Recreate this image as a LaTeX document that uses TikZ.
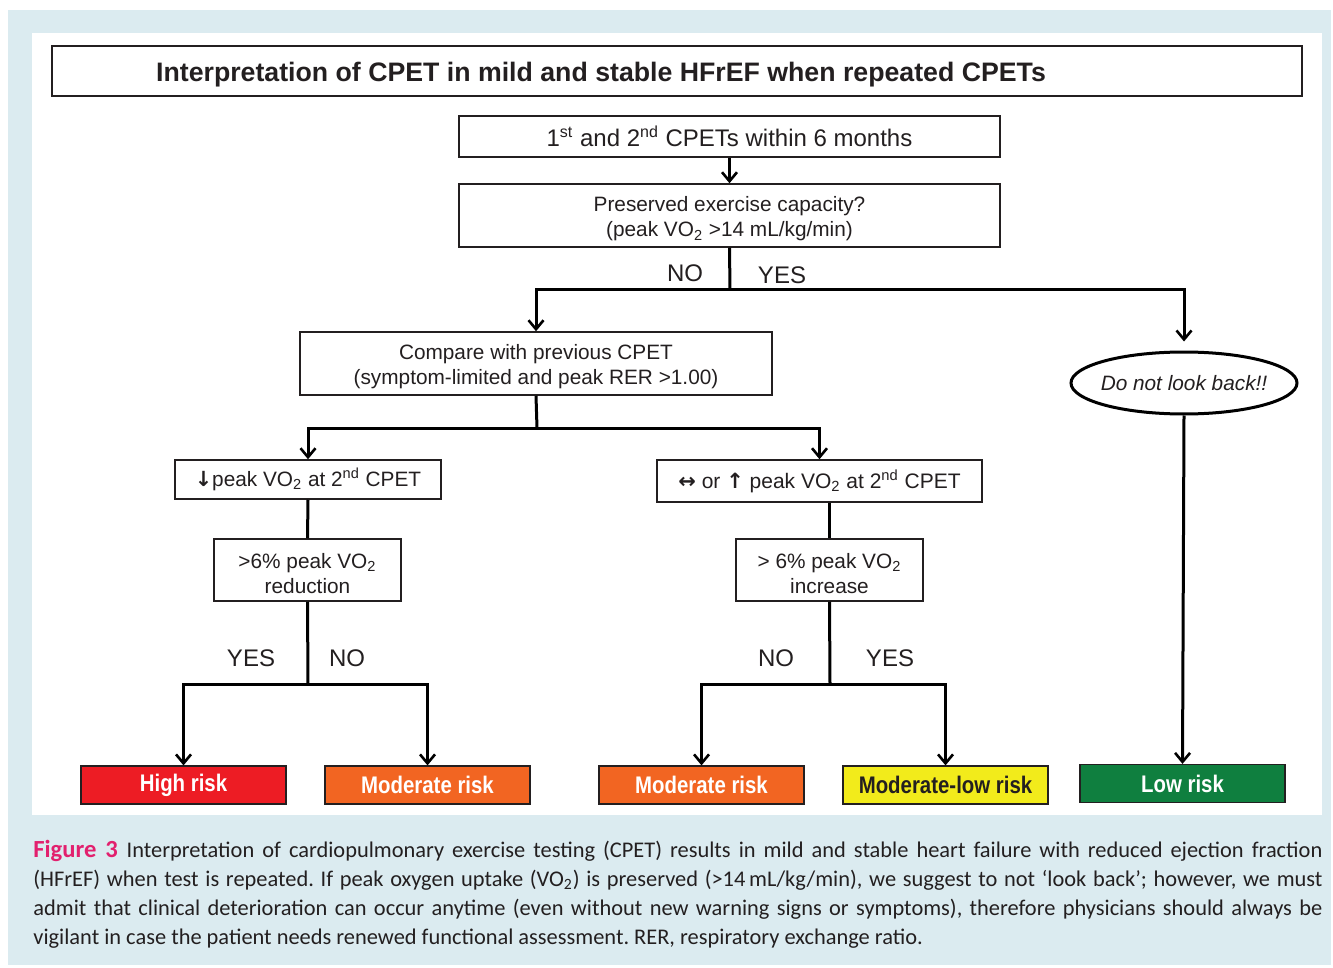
\documentclass[tikz,border=0pt]{standalone}
\usepackage{fontspec}
\setmainfont{Liberation Sans}
\newfontfamily\capfont{Carlito}
\newfontfamily\condfont[FakeStretch=0.85]{Liberation Sans}
\newfontfamily\arrfont{DejaVu Sans}
\usetikzlibrary{arrows.meta,shapes.geometric}
\definecolor{bgblue}{HTML}{DBEBF0}
\definecolor{hired}{HTML}{ED1C24}
\definecolor{modorange}{HTML}{F26522}
\definecolor{mlyellow}{HTML}{F2EB1B}
\definecolor{lowgreen}{HTML}{0F7F3F}
\definecolor{figpink}{HTML}{E2206E}
\definecolor{ink}{HTML}{231F20}
\newcommand{\barrow}[1]{{\arrfont\bfseries #1}}
\begin{document}
\begin{tikzpicture}[x=0.5pt,y=-0.5pt,
  box/.style={draw=ink,line width=0.75pt,fill=white,text=ink,align=center,inner sep=0pt,
    font=\fontsize{10.4}{12.5}\selectfont},
  risk/.style={draw=ink,line width=0.6pt,minimum width=102.5pt,minimum height=19pt,inner sep=0pt,
    font=\condfont\bfseries\fontsize{12}{14}\selectfont},
  conn/.style={line width=1.5pt,draw=black},
  arr/.style={conn,-{Straight Barb[length=4.5pt,width=7.5pt,line width=1.3pt]}},
  lab/.style={font=\fontsize{12}{14}\selectfont,text=ink,inner sep=0pt}]
\useasboundingbox (0,0) rectangle (1333,968);
\fill[bgblue] (8,10) rectangle (1331,965);
\fill[white] (32,33) rectangle (1322,815);

% title
\node[draw=ink,line width=0.75pt,minimum width=625pt,minimum height=25pt,inner sep=0pt] (title) at (677,71) {};
\node[font=\bfseries\fontsize{13.35}{15}\selectfont,text=ink,inner sep=0pt] (titletext) at (601,75) {Interpretation of CPET in mild and stable HFrEF when repeated CPETs};

% boxes
\node[box,minimum width=270.5pt,minimum height=20.5pt,font=\fontsize{12}{14}\selectfont] (b1) at (729.5,136.5)
  {1\textsuperscript{st} and 2\textsuperscript{nd} CPETs within 6 months};
\node[box,minimum width=270.5pt,minimum height=31.5pt] (b2) at (729.5,215.5)
  {\rule{0pt}{11pt}Preserved exercise capacity?\\(peak VO\textsubscript{2} >14 mL/kg/min)};
\node[box,minimum width=236pt,minimum height=31.5pt] (b3) at (536,363.5)
  {\rule{0pt}{11pt}Compare with previous CPET\\(symptom-limited and peak RER >1.00)};
\node[draw=black,line width=1.5pt,ellipse,minimum width=113pt,minimum height=31pt,inner sep=0pt,
  font=\itshape\fontsize{10.4}{12.5}\selectfont,text=ink] (ell) at (1184,383) {\makebox[0pt]{Do not look back!!}};
\node[box,minimum width=133pt,minimum height=19.5pt,font=\fontsize{10.4}{13}\selectfont] (b4) at (308,479.5)
  {\barrow{↓}peak VO\textsubscript{2} at 2\textsuperscript{nd} CPET};
\node[box,minimum width=162.5pt,minimum height=21pt,font=\fontsize{10.5}{13}\selectfont] (b5) at (819.5,481)
  {\barrow{↔} or \barrow{↑} peak VO\textsubscript{2} at 2\textsuperscript{nd} CPET};
\node[box,minimum width=93.5pt,minimum height=31pt] (b6) at (307.5,570)
  {\rule{0pt}{11pt}>6\% peak VO\textsubscript{2}\\reduction};
\node[box,minimum width=93.5pt,minimum height=31pt] (b7) at (829.5,570)
  {\rule{0pt}{11pt}> 6\% peak VO\textsubscript{2}\\increase};

% risk boxes
\node[risk,fill=hired,text=white] (r1) at (183.5,785) {High risk};
\node[risk,fill=modorange,text=white] (r2) at (427.5,785) {Moderate risk};
\node[risk,fill=modorange,text=white] (r3) at (701.5,785) {Moderate risk};
\node[risk,fill=mlyellow,text=ink] (r4) at (945.5,785) {Moderate-low risk};
\node[risk,fill=lowgreen,text=white] (r5) at (1182.5,783.5) {Low risk};

% junctions
\coordinate (j1) at (730,290);
\coordinate (j2) at (537,428);
\coordinate (j3) at (308,684);
\coordinate (j4) at (830,684);

% connectors
\draw[arr] (b1.south) -- (b2.north);
\draw[conn] (b2.south) -- (j1);
\draw[arr] (j1) -| (b3.north);
\draw[arr,shorten >=4.5pt] (j1) -| (ell.north);
\draw[conn] (b3.south) -- (j2);
\draw[arr] (j2) -| (b4.north);
\draw[arr] (j2) -| (b5.north);
\draw[conn] (b4.south) -- (b6.north);
\draw[conn] (b7.north |- b5.south) -- (b7.north);
\draw[conn] (b6.south) -- (j3);
\draw[arr] (j3) -| (r1.north);
\draw[arr] (j3) -| (r2.north);
\draw[conn] (b7.south) -- (j4);
\draw[arr] (j4) -| (r3.north);
\draw[arr] (j4) -| (r4.north);
\draw[arr] (ell.south) -- (r5.north);

% labels
\node[lab] (lno1) at (685,273) {NO};
\node[lab] (lyes1) at (782,275) {YES};
\node[lab] (lyes2) at (251,658) {YES};
\node[lab] (lno2) at (347,658) {NO};
\node[lab] (lno3) at (776,658) {NO};
\node[lab] (lyes3) at (890,658) {YES};

% caption
\node[anchor=base west,text width=644.5pt,align=justify,inner sep=0pt,text=ink,
  font=\capfont\fontsize{11.2}{14.5}\selectfont] (cap) at (33,857)
  {\frenchspacing\hyphenpenalty=10000{\color{figpink}\bfseries\fontsize{12.3}{14.5}\selectfont Figure 3}\hspace{0.4em}Interpretation of cardiopulmonary exercise testing (CPET) results in mild and stable heart failure with reduced ejection fraction\linebreak
  (HFrEF) when test is repeated. If peak oxygen uptake (VO\textsubscript{2}) is preserved (>14\,mL/kg/min), we suggest to not ‘look back’; however, we must\linebreak
  admit that clinical deterioration can occur anytime (even without new warning signs or symptoms), therefore physicians should always be\linebreak
  vigilant in case the patient needs renewed functional assessment. RER, respiratory exchange ratio.};
\end{tikzpicture}
\end{document}
